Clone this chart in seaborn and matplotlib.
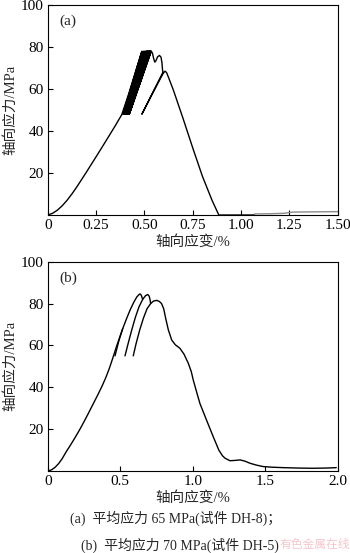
import numpy as np
import pandas as pd
import matplotlib
matplotlib.use("Agg")
import matplotlib.pyplot as plt
import seaborn as sns

# ---------------- Specimen DH-8, mean stress 65 MPa ----------------
# monotonic loading up to the first upper-stress peak
a_load_strain = [0.000, 0.025, 0.050, 0.075, 0.100, 0.125, 0.150, 0.200, 0.250, 0.300,
                 0.350, 0.383, 0.420, 0.460, 0.487]
a_load_stress = [0.0, 0.8, 2.3, 4.4, 7.0, 10.0, 13.3, 20.4, 27.7, 35.1,
                 42.6, 47.8, 58.0, 70.0, 78.0]
# cyclic stress limits (MPa)
a_cycle_lower = 48.0
a_cycle_upper = 78.0
# strain at each valley / following peak of the cycles
a_valley_strain = [0.390, 0.395, 0.399, 0.402, 0.404, 0.406, 0.408, 0.409, 0.411,
                   0.412, 0.413, 0.414, 0.416, 0.417, 0.418, 0.419, 0.421, 0.422]
a_peak_strain = [0.495, 0.500, 0.505, 0.508, 0.511, 0.513, 0.515, 0.517, 0.519,
                 0.521, 0.523, 0.525, 0.527, 0.528, 0.530, 0.532, 0.534, 0.536]
# post-peak branch: small drops, one unloading loop, softening
a_post_strain = [0.542, 0.548, 0.554, 0.560, 0.568, 0.578, 0.586, 0.591, 0.594, 0.596,
                 0.487, 0.540, 0.580, 0.598, 0.607, 0.615, 0.625, 0.650, 0.700, 0.750,
                 0.800, 0.850, 0.870, 0.885, 1.070]
a_post_stress = [77.0, 74.5, 72.8, 73.5, 75.3, 76.0, 75.2, 72.5, 69.0, 68.0,
                 48.0, 57.5, 64.5, 67.6, 68.5, 67.8, 65.5, 59.5, 46.0, 32.0,
                 18.5, 7.0, 3.0, 0.0, 0.0]
# residual stress trace after failure
a_res_strain = [1.07, 1.15, 1.22, 1.27, 1.50]
a_res_stress = [0.5, 0.6, 0.8, 1.4, 1.6]

# ---------------- Specimen DH-5, mean stress 70 MPa ----------------
b_load_strain = [0.000, 0.025, 0.050, 0.075, 0.100, 0.125, 0.150, 0.175, 0.200, 0.225,
                 0.250, 0.275, 0.300, 0.325, 0.350, 0.375, 0.400, 0.425, 0.450, 0.475,
                 0.500, 0.520, 0.545, 0.570, 0.595, 0.615, 0.630, 0.637, 0.645, 0.650,
                 0.655]
b_load_stress = [0.0, 0.5, 1.7, 3.5, 5.9, 8.9, 11.6, 14.4, 17.3, 20.3,
                 23.5, 26.8, 30.2, 33.6, 37.0, 40.6, 44.5, 49.0, 54.2, 59.6,
                 64.6, 68.5, 73.0, 77.2, 80.8, 83.2, 84.3, 84.6, 84.0, 83.0,
                 82.0]
b_loop1_strain = [0.464, 0.490, 0.517]
b_loop1_stress = [55.0, 62.0, 68.0]
b_loop2_strain = [0.533, 0.555, 0.580, 0.605, 0.630, 0.655, 0.675, 0.690, 0.700, 0.706, 0.710]
b_loop2_stress = [55.0, 61.0, 67.5, 73.5, 78.5, 82.0, 83.8, 84.3, 83.5, 81.8, 80.0]
b_loop3_strain = [0.590, 0.610, 0.635, 0.660, 0.685, 0.710, 0.730, 0.752, 0.770, 0.785,
                  0.800, 0.815, 0.832, 0.855, 0.880, 0.912, 0.940, 0.970, 0.990, 1.004,
                  1.030, 1.050, 1.100, 1.142, 1.180, 1.205, 1.223, 1.257, 1.300, 1.327,
                  1.360, 1.395, 1.440, 1.487, 1.550, 1.625, 1.730, 1.830, 1.920, 1.990]
b_loop3_stress = [55.0, 61.0, 67.5, 73.0, 77.5, 80.0, 81.2, 81.5, 81.0, 80.0,
                  77.5, 72.5, 67.4, 62.6, 60.3, 58.6, 55.8, 51.4, 47.5, 43.4,
                  37.0, 32.2, 23.5, 16.3, 10.0, 7.3, 6.1, 4.9, 5.1, 5.3,
                  4.7, 3.7, 2.8, 2.1, 1.8, 1.6, 1.4, 1.3, 1.4, 1.6]

a_xticks = [0, 0.25, 0.50, 0.75, 1.00, 1.25, 1.50]
a_xticklabels = ["0", "0.25", "0.50", "0.75", "1.00", "1.25", "1.50"]
b_xticks = [0, 0.5, 1.0, 1.5, 2.0]
b_xticklabels = ["0", "0.5", "1.0", "1.5", "2.0"]
yticks = [20, 40, 60, 80, 100]

xlabel = "轴向应变/%"
ylabel = "轴向应力/MPa"
caption_a = "(a)  平均应力 65 MPa(试件 DH-8)；"
caption_b = "(b)  平均应力 70 MPa(试件 DH-5)"
mark = "有色金属在线"

# ---------------- build long-form tables ----------------
a_path_x = list(a_load_strain)
a_path_y = list(a_load_stress)
for v, p in zip(a_valley_strain, a_peak_strain):
    a_path_x += [v, p]
    a_path_y += [a_cycle_lower, a_cycle_upper]
a_path_x += a_post_strain
a_path_y += a_post_stress
df_a = pd.DataFrame({"strain": a_path_x, "stress": a_path_y, "seg": 0})
df_a_res = pd.DataFrame({"strain": a_res_strain, "stress": a_res_stress, "seg": 0})

df_b = pd.concat([
    pd.DataFrame({"strain": b_load_strain, "stress": b_load_stress, "seg": 0}),
    pd.DataFrame({"strain": b_loop1_strain, "stress": b_loop1_stress, "seg": 1}),
    pd.DataFrame({"strain": b_loop2_strain, "stress": b_loop2_stress, "seg": 2}),
    pd.DataFrame({"strain": b_loop3_strain, "stress": b_loop3_stress, "seg": 3}),
], ignore_index=True)

# ---------------- styling ----------------
sns.set_theme(style="ticks")
serif_cjk = ["Liberation Serif", "Noto Sans CJK SC", "DejaVu Sans"]
plt.rcParams["font.family"] = serif_cjk
plt.rcParams["axes.linewidth"] = 0.8
plt.rcParams["axes.unicode_minus"] = False

fig = plt.figure(figsize=(3.5, 5.53), dpi=100)
fig.patch.set_facecolor("white")
ax_a = fig.add_axes([0.1363, 0.6112, 0.8286, 0.3797])
ax_b = fig.add_axes([0.1363, 0.1483, 0.8286, 0.3785])

sns.lineplot(data=df_a, x="strain", y="stress", units="seg", estimator=None, sort=False,
             color="black", lw=1.0, ax=ax_a, legend=False)
sns.lineplot(data=df_a_res, x="strain", y="stress", units="seg", estimator=None, sort=False,
             color="#8a8a8a", lw=1.0, ax=ax_a, legend=False)
sns.lineplot(data=df_b, x="strain", y="stress", units="seg", estimator=None, sort=False,
             color="black", lw=1.0, ax=ax_b, legend=False)
for ln in ax_a.lines + ax_b.lines:
    ln.set_solid_joinstyle("round")


def style_axes(ax, xmax, xticks, xticklabels, tag):
    ax.set_xlim(0, xmax)
    ax.set_ylim(0, 100)
    ax.set_xticks(xticks)
    ax.set_xticklabels(xticklabels)
    ax.set_yticks(yticks)
    ax.tick_params(direction="in", length=3.5, width=0.8, labelsize=11,
                   colors="black", pad=3)
    for s in ax.spines.values():
        s.set_color("black")
        s.set_linewidth(0.8)
    ax.set_xlabel(xlabel, fontsize=10.5, labelpad=2)
    ax.set_ylabel(ylabel, fontsize=10.5)
    ax.yaxis.set_label_coords(-0.105, 0.5)
    ax.text(0.04, 0.955, tag, transform=ax.transAxes, ha="left", va="top", fontsize=11)
    ax.set_facecolor("white")


style_axes(ax_a, 1.5, a_xticks, a_xticklabels, "(a)")
style_axes(ax_b, 2.0, b_xticks, b_xticklabels, "(b)")

fig.text(0.503, 1 - 518 / 553, caption_a, ha="center", va="center", fontsize=10)
fig.text(0.514, 1 - 545 / 553, caption_b, ha="center", va="center", fontsize=10)
fig.text(0.90, 1 - 545 / 553, mark, ha="center", va="center", fontsize=8.5,
         color="#f2b8c0", alpha=0.8)

fig.savefig("out.png", dpi=100, facecolor="white")
